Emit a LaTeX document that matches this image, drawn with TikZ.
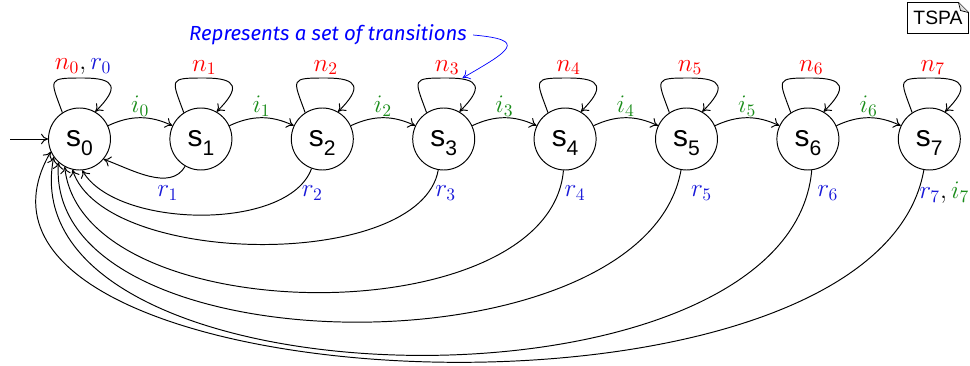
\documentclass[tikz,border=0pt]{standalone}
\usepackage{fontspec}
\setmainfont{Liberation Sans}
\newfontfamily\notefont{Fira Sans}
\usepackage{tikz}
\usetikzlibrary{arrows.meta, positioning, calc}
\definecolor{NRed}{rgb}{1, 0, 0}
\definecolor{RBlue}{rgb}{0.1, 0.1, 0.85}
\definecolor{IGreen}{rgb}{0.1, 0.55, 0.1}
\definecolor{NoteBlue}{rgb}{0, 0, 1}
\newcommand{\stname}[1]{s\smash{\raisebox{-5pt}{\fontsize{12}{12}\selectfont #1}}}

\begin{document}
\begin{tikzpicture}[>={To[length=4pt,width=6pt]}, line width=0.55pt,
    state/.style={circle, draw, minimum size=1.24cm, inner sep=0pt, font=\fontsize{17}{20}\selectfont},
    nlab/.style={text=NRed, font=\fontsize{14.5}{16}\selectfont, inner sep=1.5pt},
    ilab/.style={text=IGreen, font=\fontsize{14.5}{16}\selectfont, inner sep=0.5pt},
    rlab/.style={text=RBlue, font=\fontsize{14.5}{16}\selectfont}]
    \useasboundingbox (0,0) rectangle (19.4,7.3);
    % States
    \foreach \k in {0,...,7}
        \node[state] (s\k) at ({1.59+2.428*\k},4.52) {\stname{\k}};
    \coordinate[left=0.76cm of s0] (init);
    \draw[->] (init) -- (s0);
    % Self loops
    \draw[->] (s0.123) to[out=110, in=180, looseness=2.3] node[nlab, above, pos=1, text=black] (n0) {$\textcolor{NRed}{n_0},\textcolor{RBlue}{r_0}$} ($(s0)+(0.07,1.22)$)
        to[out=0, in=45, looseness=2.4] (s0.60);
    \foreach \k in {1,...,7}
        \draw[->] (s\k.123) to[out=110, in=180, looseness=2.3] node[nlab, above, pos=1] (n\k) {$n_{\k}$} ($(s\k)+(0.07,1.22)$)
            to[out=0, in=45, looseness=2.4] (s\k.60);
    % Forward transitions
    \foreach \k [count=\j from 1] in {0,...,6}
        \draw[->] (s\k) to[bend left=25] node[ilab, above] (i\k) {$i_{\k}$} (s\j);
    % Resets back to s0
    \foreach \k/\a/\o/\e/\i/\l in {1/240/240/320/340/0.93, 2/250/250/275/300/0.75,
        3/260/260/257/288/0.72, 4/267/265/242/276/0.85, 5/260/260/228/266/0.86,
        6/277/265/215/259/0.87, 7/260/260/204/240/0.845}
        \draw[->] (s\k.\a) to[out=\o, in=\i, looseness=\l] (s0.\e);
    \foreach \k/\x in {1/-0.66, 2/-0.2, 3/0.04, 4/0.2, 5/0.3, 6/0.4}
        \node[rlab] (r\k) at ($(s\k)+(\x,-1.08)$) {$r_{\k}$};
    \node[rlab, text=black] (r7) at ($(s7)+(0.3,-1.08)$) {$\textcolor{RBlue}{r_7},\textcolor{IGreen}{i_7}$};
    % Note
    \node[text=NoteBlue, font=\notefont\itshape\fontsize{11.6}{13}\selectfont] (note) at (6.56,6.6) {Represents a set of transitions};
    \draw[NoteBlue, line width=0.4pt, ->] (note.east) to[out=-5, in=30, looseness=3.2] (n3.south east);
    % Tag
    \node[font=\fontsize{11}{13}\selectfont, minimum width=1.2cm, minimum height=0.6cm, inner sep=0pt] (tspa) at (18.76,6.94) {TSPA};
    \draw[line width=0.5pt] (tspa.south west) -- (tspa.north west) -- ($(tspa.north east)+(-0.2,0)$)
        -- ($(tspa.north east)+(0,-0.2)$) -- (tspa.south east) -- cycle;
    \draw[fill=gray!25, line width=0.4pt] ($(tspa.north east)+(-0.2,0)$) -- ($(tspa.north east)+(-0.16,-0.16)$)
        -- ($(tspa.north east)+(0,-0.2)$);
\end{tikzpicture}
\end{document}
